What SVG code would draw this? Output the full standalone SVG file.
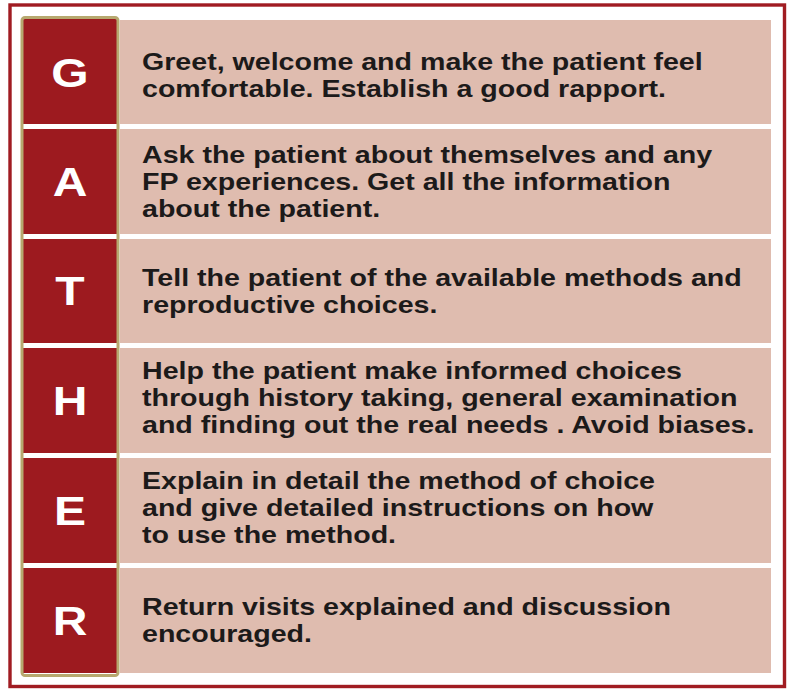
<svg xmlns="http://www.w3.org/2000/svg" width="795" height="698" viewBox="0 0 795 698">
<style>
.bg{fill:#ffffff}
.frame{fill:none;stroke:#a01c22;stroke-width:3.4}
.cell{fill:#dfbcaf}
.red{fill:#9d1a1f}
.tan{fill:none;stroke:#b7a86f;stroke-width:3}
.t{font-family:"Liberation Sans",Arial,sans-serif;font-weight:bold;font-size:23.5px;fill:#1c1a1a}
.L{font-family:"Liberation Sans",Arial,sans-serif;font-weight:bold;font-size:40px;fill:#ffffff;text-anchor:middle}
</style>
<rect class="bg" x="0" y="0" width="795" height="698"/>
<rect class="frame" x="10" y="5" width="774.5" height="681.5"/>
<g id="connectors"></g>
<g id="row-G">
<rect class="cell" x="120" y="20" width="651" height="104"/>
<rect class="red" x="23" y="18" width="94" height="106"/>
<text class="L" transform="scale(1.2,1)" x="58.33" y="87">G</text>
<text class="t" transform="scale(1.217,1)" x="116.7" y="70.5">Greet, welcome and make the patient feel</text>
<text class="t" transform="scale(1.217,1)" x="116.7" y="97">comfortable. Establish a good rapport.</text>
</g>
<g id="row-A">
<rect class="cell" x="120" y="129" width="651" height="105"/>
<rect class="red" x="23" y="129" width="94" height="105"/>
<text class="L" transform="scale(1.2,1)" x="58.33" y="196">A</text>
<text class="t" transform="scale(1.217,1)" x="116.7" y="163.5">Ask the patient about themselves and any</text>
<text class="t" transform="scale(1.217,1)" x="116.7" y="190.5">FP experiences. Get all the information</text>
<text class="t" transform="scale(1.217,1)" x="116.7" y="217">about the patient.</text>
</g>
<g id="row-T">
<rect class="cell" x="120" y="239" width="651" height="104"/>
<rect class="red" x="23" y="239" width="94" height="104"/>
<text class="L" transform="scale(1.2,1)" x="58.33" y="305">T</text>
<text class="t" transform="scale(1.217,1)" x="116.7" y="286">Tell the patient of the available methods and</text>
<text class="t" transform="scale(1.217,1)" x="116.7" y="313.5">reproductive choices.</text>
</g>
<g id="row-H">
<rect class="cell" x="120" y="348" width="651" height="105"/>
<rect class="red" x="23" y="348" width="94" height="105"/>
<text class="L" transform="scale(1.2,1)" x="58.33" y="415">H</text>
<text class="t" transform="scale(1.217,1)" x="116.7" y="379">Help the patient make informed choices</text>
<text class="t" transform="scale(1.217,1)" x="116.7" y="406">through history taking, general examination</text>
<text class="t" transform="scale(1.217,1)" x="116.7" y="433">and finding out the real needs . Avoid biases.</text>
</g>
<g id="row-E">
<rect class="cell" x="120" y="458" width="651" height="105"/>
<rect class="red" x="23" y="458" width="94" height="105"/>
<text class="L" transform="scale(1.2,1)" x="58.33" y="525">E</text>
<text class="t" transform="scale(1.217,1)" x="116.7" y="489.5">Explain in detail the method of choice</text>
<text class="t" transform="scale(1.217,1)" x="116.7" y="516.5">and give detailed instructions on how</text>
<text class="t" transform="scale(1.217,1)" x="116.7" y="543.5">to use the method.</text>
</g>
<g id="row-R">
<rect class="cell" x="120" y="568" width="651" height="105"/>
<rect class="red" x="23" y="568" width="94" height="105"/>
<text class="L" transform="scale(1.2,1)" x="58.33" y="635">R</text>
<text class="t" transform="scale(1.217,1)" x="116.7" y="615.5">Return visits explained and discussion</text>
<text class="t" transform="scale(1.217,1)" x="116.7" y="642.5">encouraged.</text>
</g>
<rect id="letter-column" class="tan" x="22" y="17.5" width="96" height="658" rx="3"/>
</svg>
